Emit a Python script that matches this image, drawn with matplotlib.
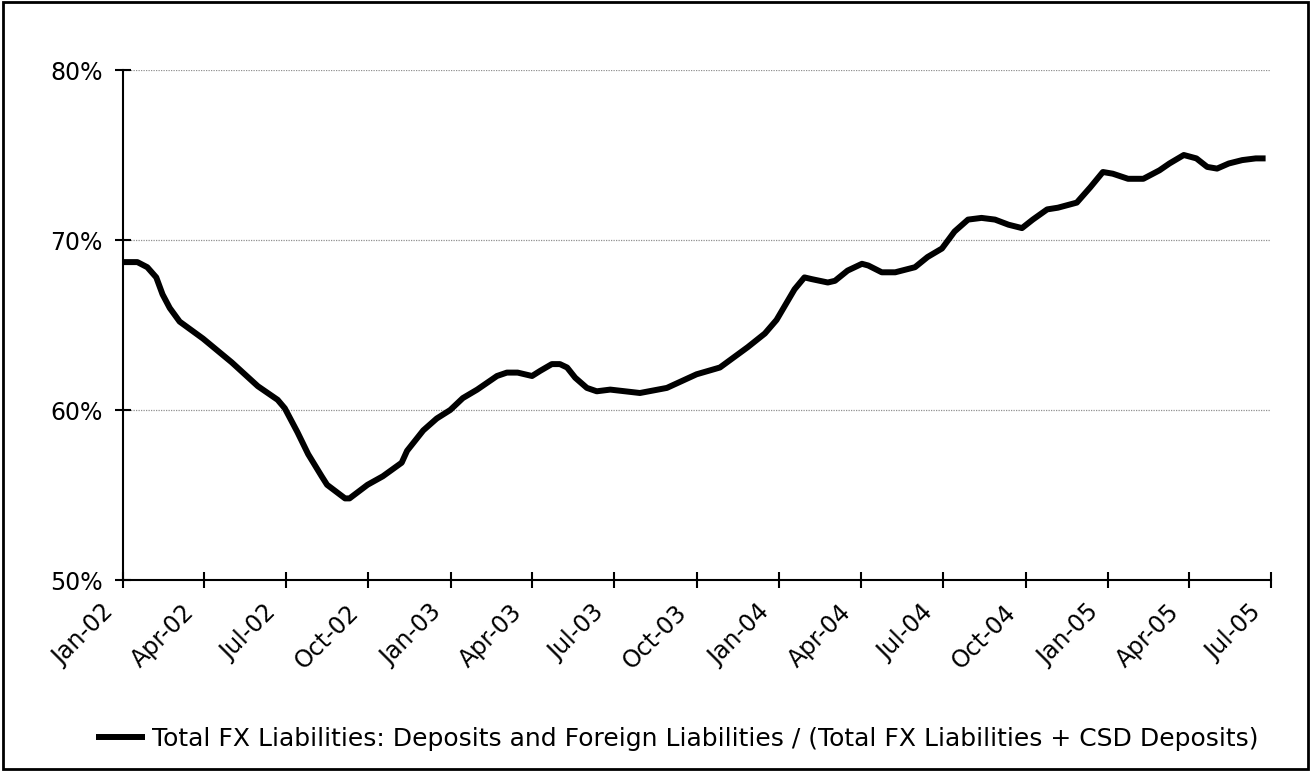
import pandas as pd
import matplotlib
matplotlib.use('Agg')
import matplotlib.pyplot as plt
import matplotlib.dates as mdates
from matplotlib.ticker import FuncFormatter
from matplotlib.patches import Rectangle
from matplotlib.transforms import ScaledTranslation

# series (percent)
dates = [
    '2002-01-01', '2002-01-17', '2002-01-28', '2002-02-07', '2002-02-14', '2002-02-22',
    '2002-03-05', '2002-03-31', '2002-05-02', '2002-05-31', '2002-06-22', '2002-06-30',
    '2002-07-14', '2002-07-26', '2002-08-10', '2002-08-16', '2002-09-05', '2002-09-10',
    '2002-09-30', '2002-10-17', '2002-11-07', '2002-11-13', '2002-12-01', '2002-12-16',
    '2002-12-31', '2003-01-14', '2003-01-30', '2003-02-21', '2003-03-04', '2003-03-16',
    '2003-04-01', '2003-04-10', '2003-04-23', '2003-05-02', '2003-05-10', '2003-05-19',
    '2003-06-01', '2003-06-12', '2003-06-27', '2003-07-30', '2003-08-29', '2003-10-01',
    '2003-10-27', '2003-11-27', '2003-12-16', '2003-12-29', '2004-01-18', '2004-01-29',
    '2004-02-06', '2004-02-24', '2004-03-03', '2004-03-17', '2004-04-02', '2004-04-09',
    '2004-04-24', '2004-05-09', '2004-05-31', '2004-06-14', '2004-06-30', '2004-07-14',
    '2004-07-29', '2004-08-13', '2004-08-28', '2004-09-12', '2004-09-27', '2004-10-09',
    '2004-10-25', '2004-11-06', '2004-11-27', '2004-12-12', '2004-12-26', '2005-01-06',
    '2005-01-23', '2005-02-09', '2005-02-27', '2005-03-10', '2005-03-26', '2005-04-09',
    '2005-04-21', '2005-05-02', '2005-05-15', '2005-05-30', '2005-06-14', '2005-06-25',
]
fx_share = [
    68.7, 68.7, 68.4, 67.8, 66.8, 66.0,
    65.2, 64.2, 62.8, 61.4, 60.6, 60.1,
    58.7, 57.4, 56.1, 55.6, 54.8, 54.8,
    55.6, 56.1, 56.9, 57.6, 58.8, 59.5,
    60.0, 60.7, 61.2, 62.0, 62.2, 62.2,
    62.0, 62.3, 62.7, 62.7, 62.5, 61.9,
    61.3, 61.1, 61.2, 61.0, 61.3, 62.1,
    62.5, 63.7, 64.5, 65.3, 67.1, 67.8,
    67.7, 67.5, 67.6, 68.2, 68.6, 68.5,
    68.1, 68.1, 68.4, 69.0, 69.5, 70.5,
    71.2, 71.3, 71.2, 70.9, 70.7, 71.2,
    71.8, 71.9, 72.2, 73.1, 74.0, 73.9,
    73.6, 73.6, 74.1, 74.5, 75.0, 74.8,
    74.3, 74.2, 74.5, 74.7, 74.8, 74.8,
]
series_label = 'Total FX Liabilities: Deposits and Foreign Liabilities / (Total FX Liabilities + CSD Deposits)'
y_ticks = [50, 60, 70, 80]

x = pd.to_datetime(dates)

W, H = 1311, 771
fig = plt.figure(figsize=(W / 100, H / 100), dpi=100)
ax = fig.add_axes([123 / W, 1 - 580 / H, 1148 / W, 510 / H])

ax.plot(x, fx_share, color='black', lw=4.3, solid_joinstyle='round',
        solid_capstyle='butt', label=series_label, zorder=3)

ax.set_xlim(pd.Timestamp('2002-01-01'), pd.Timestamp('2005-07-01'))
ax.set_ylim(50, 80)
ax.set_yticks(y_ticks)
ax.yaxis.set_major_formatter(FuncFormatter(lambda v, p: f'{v:.0f}%'))
ax.xaxis.set_major_locator(mdates.MonthLocator(bymonth=[1, 4, 7, 10]))
ax.xaxis.set_major_formatter(mdates.DateFormatter('%b-%y'))

for v in y_ticks[1:]:
    ax.axhline(v, color='#909090', lw=0.9, ls=(0, (1, 1)), zorder=1)

for s in ['top', 'right']:
    ax.spines[s].set_visible(False)
for s in ['left', 'bottom']:
    ax.spines[s].set_linewidth(1.5)
ax.tick_params(axis='both', direction='inout', length=11, width=1.5,
               colors='black')
ax.tick_params(axis='y', pad=9, labelsize=17)
ax.tick_params(axis='x', pad=9, labelsize=17)

# rotated date labels sit left of their tick, like the original
shift = ScaledTranslation(-22 / 100, 0, fig.dpi_scale_trans)
for lab in ax.get_xticklabels():
    lab.set_rotation(45)
    lab.set_ha('right')
    lab.set_va('top')
    lab.set_rotation_mode('anchor')
    lab.set_transform(lab.get_transform() + shift)

fig.legend(loc='center left', bbox_to_anchor=(96 / W, 1 - 739 / H),
           frameon=False, borderpad=0, borderaxespad=0,
           handlelength=1.96, handletextpad=0.28,
           prop={'family': 'DejaVu Sans', 'size': 18})

fig.add_artist(Rectangle((0.002, 0.003), 0.996, 0.994, transform=fig.transFigure,
                         fill=False, edgecolor='black', lw=2))

fig.savefig('out.png', dpi=100)
